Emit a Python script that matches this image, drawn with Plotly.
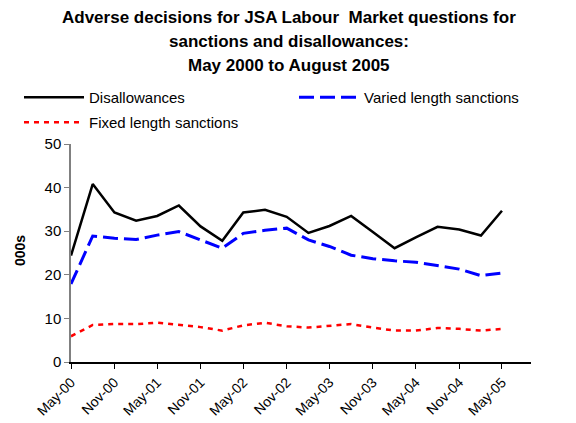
import plotly.graph_objects as go

# Quarterly observation dates (May 2000 to May 2005)
dates = [
    "2000-05-01", "2000-08-01", "2000-11-01", "2001-02-01", "2001-05-01",
    "2001-08-01", "2001-11-01", "2002-02-01", "2002-05-01", "2002-08-01",
    "2002-11-01", "2003-02-01", "2003-05-01", "2003-08-01", "2003-11-01",
    "2004-02-01", "2004-05-01", "2004-08-01", "2004-11-01", "2005-02-01",
    "2005-05-01",
]

# Adverse decisions, thousands
disallowances = [24.4, 40.8, 34.3, 32.4, 33.5, 35.9, 31.1, 27.8, 34.3, 34.9,
                 33.3, 29.6, 31.2, 33.5, 29.8, 26.1, 28.6, 31.0, 30.4, 29.0,
                 34.7]
varied_length = [17.9, 28.9, 28.4, 28.1, 29.1, 29.9, 28.0, 26.1, 29.5, 30.2,
                 30.7, 28.0, 26.5, 24.5, 23.7, 23.2, 22.9, 22.1, 21.3, 19.8,
                 20.4]
fixed_length = [5.9, 8.5, 8.7, 8.7, 9.0, 8.5, 8.0, 7.2, 8.4, 9.0,
                8.2, 7.9, 8.3, 8.7, 7.9, 7.2, 7.2, 7.8, 7.6, 7.2,
                7.6]

tick_dates = ["2000-05-01", "2000-11-01", "2001-05-01", "2001-11-01",
              "2002-05-01", "2002-11-01", "2003-05-01", "2003-11-01",
              "2004-05-01", "2004-11-01", "2005-05-01"]
tick_labels = ["May-00", "Nov-00", "May-01", "Nov-01", "May-02", "Nov-02",
               "May-03", "Nov-03", "May-04", "Nov-04", "May-05"]

title_lines = ["Adverse decisions for JSA Labour  Market questions for",
               "sanctions and disallowances:",
               "May 2000 to August 2005"]

FONT = "Liberation Sans, Arial, sans-serif"
W, H = 576, 423
L, R, T, B = 71, 45, 144, 61
PW, PH = W - L - R, H - T - B


def px_x(x):
    return (x - L) / PW


def px_y(y):
    return (H - B - y) / PH


fig = go.Figure()
fig.add_trace(go.Scatter(x=dates, y=disallowances, name="Disallowances",
                         mode="lines", legend="legend",
                         line=dict(color="#000000", width=2.5)))
fig.add_trace(go.Scatter(x=dates, y=varied_length, name="Varied length sanctions",
                         mode="lines", legend="legend2",
                         line=dict(color="#0000ff", width=3, dash="15px,6px")))
fig.add_trace(go.Scatter(x=dates, y=fixed_length, name="Fixed length sanctions",
                         mode="lines", legend="legend3",
                         line=dict(color="#ff0000", width=2.5, dash="5px,5px")))

annotations = []
for i, line in enumerate(title_lines):
    annotations.append(dict(
        text="<b>%s</b>" % line, xref="paper", yref="paper",
        x=px_x(289), y=px_y(17 + 24.5 * i),
        xanchor="center", yanchor="middle", showarrow=False,
        font=dict(family=FONT, size=17, color="#000000")))
annotations.append(dict(
    text="<b>000s</b>", xref="paper", yref="paper",
    x=px_x(20), y=px_y(251), textangle=-90,
    xanchor="center", yanchor="middle", showarrow=False,
    font=dict(family=FONT, size=14, color="#000000")))

legend_style = dict(xanchor="left", yanchor="top", itemwidth=60,
                    font=dict(family=FONT, size=15, color="#000000"),
                    bgcolor="rgba(0,0,0,0)")

fig.update_layout(
    width=W, height=H,
    margin=dict(l=L, r=R, t=T, b=B, autoexpand=False),
    paper_bgcolor="white", plot_bgcolor="white",
    font=dict(family=FONT, size=14, color="#000000"),
    showlegend=True,
    legend=dict(x=px_x(19), y=px_y(81), **legend_style),
    legend2=dict(x=px_x(294), y=px_y(81), **legend_style),
    legend3=dict(x=px_x(19), y=px_y(106), **legend_style),
    annotations=annotations,
)

fig.update_xaxes(
    type="date", range=["2000-05-01", "2005-09-01"],
    tickmode="array", tickvals=tick_dates, ticktext=tick_labels,
    tickangle=-45, ticks="outside", ticklen=5, tickcolor="#000000",
    showline=True, linecolor="#000000", linewidth=1.5, showgrid=False,
    zeroline=False, tickfont=dict(family=FONT, size=14))
fig.update_yaxes(
    range=[0, 50], dtick=10, ticks="outside", ticklen=5, tickcolor="#808080",
    showline=True, linecolor="#808080", linewidth=1.5, showgrid=False,
    zeroline=False, tickfont=dict(family=FONT, size=15))

fig.write_html("out.html")
